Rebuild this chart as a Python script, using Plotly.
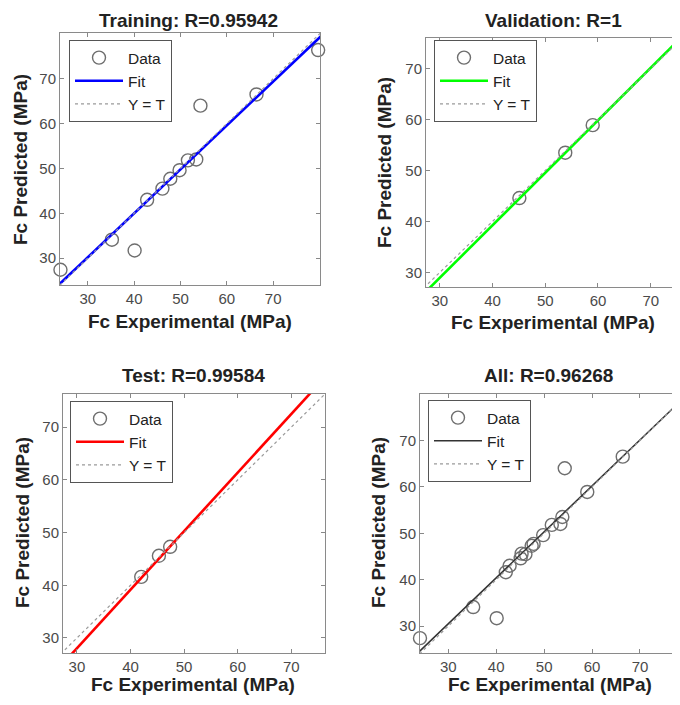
import plotly.graph_objects as go

# the page body adds an 8 px margin on every side; figure coordinates = reference pixels - OFF
OFF = 8
W, H = 680 - OFF, 705 - 2 * OFF

# ---------------- data ----------------
train_t = [24.1, 35.2, 40.1, 42.8, 46.1, 47.8, 49.8, 51.6, 53.4, 54.3, 66.4, 79.7]
train_y = [27.4, 34.1, 31.7, 43.0, 45.5, 47.7, 49.6, 51.8, 52.0, 64.0, 66.5, 76.4]
val_t = [45.1, 53.8, 59.0]
val_y = [44.6, 53.5, 58.9]
test_t = [42.0, 45.3, 47.4]
test_y = [41.6, 45.6, 47.3]
all_t = train_t + val_t + test_t
all_y = train_y + val_y + test_y

titles = ["Training: R=0.95942", "Validation: R=1", "Test: R=0.99584", "All: R=0.96268"]
fit_slope = [0.98, 1.03, 1.111, 0.99]
fit_icpt = [0.78, -1.95, -5.28, 0.8]
fit_colors = ["#0000ff", "#00ff00", "#ff0000", "#333333"]
fit_widths = [2.6, 2.6, 2.6, 1.6]
ticks = [30, 40, 50, 60, 70]

# axis limits (x, y) for each panel
xr = [[24.0, 80.1], [27.4, 75.55], [27.4, 76.3], [24.1, 78.35]]
yr = [[24.0, 80.2], [27.15, 76.0], [27.15, 76.3], [24.2, 80.0]]

# pixel boxes of the plot areas (reference px): left, right, top, bottom
boxes = [(60, 320, 33, 285), (426, 680, 38, 287), (63, 325, 394, 653), (420, 680, 394, 653)]
# legend top-left corners (px)
legpos = [(69, 40), (434, 40), (70, 401), (428, 400)]
# title centres (px); None = anchor to the top of the figure
title_c = [(188, None), (553, None), (193, 375), (548, 375)]
# x-label centres; None = anchor to the bottom of the figure
xlab_c = [(190, 321), (553, 322), (193, None), (550, None)]
ylab_c = [(21, 160), (384, 163), (22, 523), (378, 523)]

datasets = [(train_t, train_y), (val_t, val_y), (test_t, test_y), (all_t, all_y)]


def px(v):
    return (v - OFF) / W


def py(v):
    return 1 - (v - OFF) / H


FONT = "Liberation Sans"
fig = go.Figure()

for i in range(4):
    ax = "" if i == 0 else str(i + 1)
    xa, ya = "x" + ax, "y" + ax
    leg = "legend" if i == 0 else "legend" + str(i + 1)
    t, y = datasets[i]
    lo = min(xr[i][0], yr[i][0]) - 1
    hi = max(xr[i][1], yr[i][1]) + 1
    fig.add_trace(go.Scatter(
        x=t, y=y, mode="markers", name="Data", cliponaxis=False,
        marker=dict(symbol="circle-open", size=13, color="#6e6e6e", line=dict(width=1.4, color="#6e6e6e")),
        xaxis=xa, yaxis=ya, legend=leg))
    fx = [lo, hi]
    fy = [fit_slope[i] * v + fit_icpt[i] for v in fx]
    fig.add_trace(go.Scatter(
        x=fx, y=fy, mode="lines", name="Fit",
        line=dict(color=fit_colors[i], width=fit_widths[i]),
        xaxis=xa, yaxis=ya, legend=leg))
    fig.add_trace(go.Scatter(
        x=[lo, hi], y=[lo, hi], mode="lines", name="Y = T",
        line=dict(color="#9a9a9a", width=1.2, dash="dot"),
        xaxis=xa, yaxis=ya, legend=leg))

    l, r, tp, b = boxes[i]
    right_cut = r >= 680
    common = dict(tickvals=ticks, ticks="inside", ticklen=4, tickcolor="#888",
                  showline=True, linecolor="#8a8a8a", linewidth=1, showgrid=False, zeroline=False,
                  tickfont=dict(family=FONT, size=15, color="#4a4a4a"))
    fig.update_layout(**{
        ("xaxis" + ax): dict(common, domain=[px(l), min(1.0, px(r))], range=xr[i], anchor=ya,
                             mirror="ticks"),
        ("yaxis" + ax): dict(common, domain=[py(b), py(tp)], range=yr[i], anchor=xa,
                             mirror=False if right_cut else "ticks"),
    })
    lx, ly = legpos[i]
    fig.update_layout(**{leg: dict(
        x=px(lx), y=py(ly), xanchor="left", yanchor="top",
        bgcolor="white", bordercolor="#555", borderwidth=1,
        font=dict(family=FONT, size=15.5, color="#222"), itemwidth=48,
        tracegroupgap=0)})
    ann = dict(xref="paper", yref="paper", showarrow=False, xanchor="center", yanchor="middle",
               font=dict(family=FONT, size=19, color="#222"))
    tx, ty = title_c[i]
    if ty is None:
        fig.add_annotation(text="<b>%s</b>" % titles[i], x=px(tx), y=1.0,
                           **dict(ann, yanchor="top"))
    else:
        fig.add_annotation(text="<b>%s</b>" % titles[i], x=px(tx), y=py(ty), **ann)
    lx2, ly2 = xlab_c[i]
    if ly2 is None:
        fig.add_annotation(text="<b>Fc Experimental (MPa)</b>", x=px(lx2), y=0.0,
                           **dict(ann, yanchor="bottom"))
    else:
        fig.add_annotation(text="<b>Fc Experimental (MPa)</b>", x=px(lx2), y=py(ly2), **ann)
    fig.add_annotation(text="<b>Fc Predicted (MPa)</b>", x=px(ylab_c[i][0]), y=py(ylab_c[i][1]),
                       textangle=-90, **ann)

fig.update_layout(width=W, height=H, margin=dict(l=0, r=0, t=0, b=0),
                  paper_bgcolor="white", plot_bgcolor="white", showlegend=True)

fig.write_html("out.html")
